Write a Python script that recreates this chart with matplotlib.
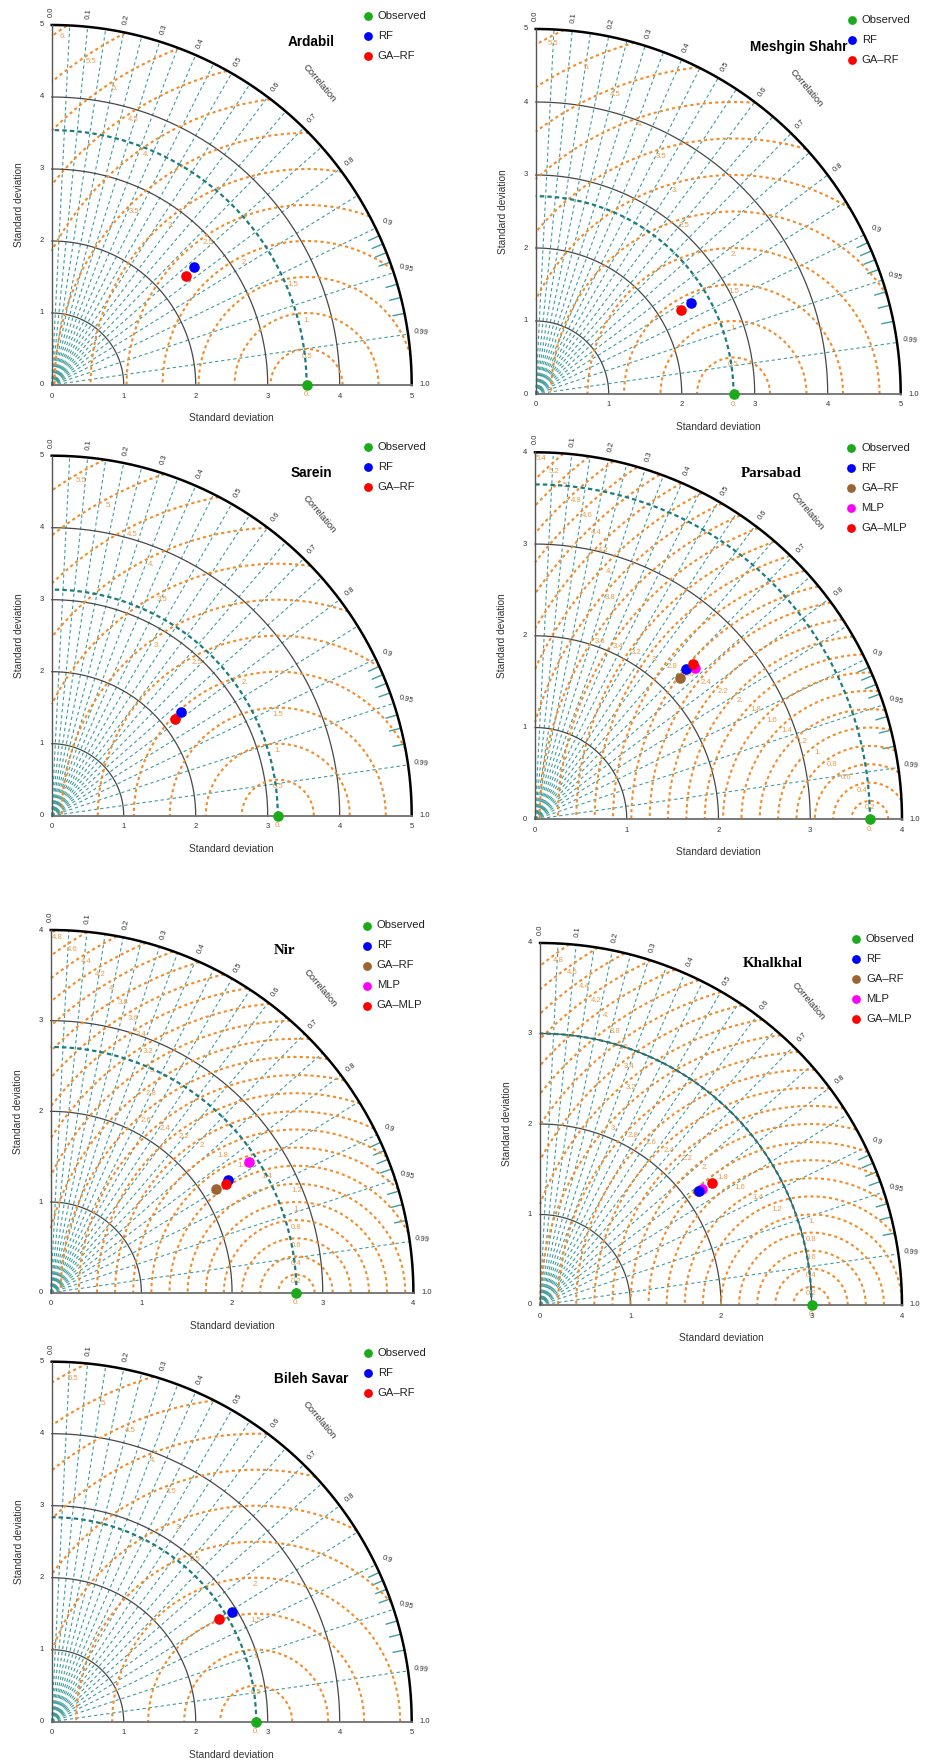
import numpy as np
import matplotlib
matplotlib.use("Agg")
import matplotlib.pyplot as plt

plt.rcParams['font.family'] = ['Liberation Sans', 'DejaVu Sans']

# ---- data ----
stations = ["Ardabil", "Meshgin Shahr", "Sarein", "Parsabad", "Nir", "Khalkhal", "Bileh Savar"]
smax = [5, 5, 5, 4, 4, 4, 5]
obs_std = [3.54, 2.71, 3.14, 3.65, 2.71, 3.00, 2.84]
rms_step = [0.5, 0.5, 0.5, 0.2, 0.2, 0.2, 0.5]
serif_title = [False, False, False, True, True, True, False]

models_rf = ["RF", "GA-RF"]
models_all = ["RF", "GA-RF", "MLP", "GA-MLP"]
colors_rf = ["#0000ff", "#ff0000"]
colors_all = ["#0000ff", "#9b6432", "#ff00ff", "#ff0000"]

ardabil_std = [2.56, 2.40]
ardabil_corr = [0.770, 0.777]
meshgin_std = [2.47, 2.30]
meshgin_corr = [0.862, 0.866]
sarein_std = [2.30, 2.17]
sarein_corr = [0.780, 0.787]
parsabad_std = [2.32, 2.21, 2.40, 2.41]
parsabad_corr = [0.709, 0.717, 0.726, 0.713]
nir_std = [2.32, 2.15, 2.62, 2.28]
nir_corr = [0.843, 0.848, 0.835, 0.850]
khalkhal_std = [2.16, 2.15, 2.20, 2.33]
khalkhal_corr = [0.813, 0.812, 0.813, 0.817]
bileh_std = [2.93, 2.72]
bileh_corr = [0.854, 0.853]

model_std = [ardabil_std, meshgin_std, sarein_std, parsabad_std, nir_std, khalkhal_std, bileh_std]
model_corr = [ardabil_corr, meshgin_corr, sarein_corr, parsabad_corr, nir_corr, khalkhal_corr, bileh_corr]

corr_lines = list(np.round(np.arange(1, 20) * 0.05, 2)) + [0.99]
corr_minor = [0.91, 0.92, 0.93, 0.94, 0.96, 0.97, 0.98]
corr_labels = [0.0, 0.1, 0.2, 0.3, 0.4, 0.5, 0.6, 0.7, 0.8, 0.9, 0.95, 0.99, 1.0]

# ---- layout (pixels): origin x, origin y, radius ----
W, H = 931, 1764
layout = [(51.7, 385, 360), (535.7, 394, 365), (51.7, 815.7, 360), (535, 819.3, 367),
          (50.7, 1292.7, 362.7), (540, 1305, 362), (51.7, 1721.7, 360)]

TEAL = '#3f9d9d'
TEAL_D = '#1d7c7c'
ORANGE = '#f28c28'
ORANGE_T = '#ec9a48'
GRAY = '#333333'

fig = plt.figure(figsize=(W / 100, H / 100), dpi=100)


def fmt(v):
    if abs(v - round(v)) < 1e-9:
        return f"{int(round(v))}."
    return f"{v:g}"


def taylor(i):
    ox, oy, rp = layout[i]
    sm = smax[i]
    k = rp / sm
    px = 1.0 / k
    L = max(0, ox - 55); R = min(W, ox + rp + 75)
    T = max(0, oy - rp - 45); B = min(H, oy + 42)
    ax = fig.add_axes([L / W, 1 - B / H, (R - L) / W, (B - T) / H])
    ax.set_xlim((L - ox) / k, (R - ox) / k)
    ax.set_ylim((oy - B) / k, (oy - T) / k)
    ax.axis('off')

    th = np.linspace(0, np.pi / 2, 400)

    # correlation rays
    for c in corr_lines:
        t = np.arccos(c)
        ax.plot([0, sm * np.cos(t)], [0, sm * np.sin(t)], color=TEAL, lw=0.8,
                ls=(0, (3, 2.5)), zorder=1)
    for c in corr_minor:
        t = np.arccos(c)
        ax.plot([sm * 0.968 * np.cos(t), sm * np.cos(t)],
                [sm * 0.968 * np.sin(t), sm * np.sin(t)], color=TEAL, lw=1.0, zorder=1)

    # std arcs
    for s in range(1, sm):
        ax.plot(s * np.cos(th), s * np.sin(th), color='#474747', lw=0.9, zorder=2)

    # RMS contours around the observed point
    ref = obs_std[i]
    step = rms_step[i]
    rmax = np.hypot(ref, sm)
    phi = np.linspace(0, np.pi, 1441)
    n = int(np.floor(rmax / step + 1e-9))
    for r in np.round(np.arange(1, n + 1) * step, 2):
        x = ref + r * np.cos(phi)
        y = r * np.sin(phi)
        inside = (x >= 0) & (x * x + y * y <= sm * sm)
        if inside.sum() < 2:
            continue
        ax.plot(np.where(inside, x, np.nan), np.where(inside, y, np.nan),
                color=ORANGE, lw=1.5, ls=(0, (1.5, 1.5)), zorder=3)
        idx = np.where(inside)[0]
        pm = 0.5 * (phi[idx[0]] + phi[idx[-1]])
        rl = r - 7 * px
        ax.text(ref + rl * np.cos(pm), rl * np.sin(pm), fmt(r), color=ORANGE_T,
                fontsize=5.6, ha='center', va='center', zorder=4)
    ax.text(ref, -10 * px, "0.", color=ORANGE_T, fontsize=5.6, ha='center', va='center')

    # reference std arc
    ax.plot(ref * np.cos(th), ref * np.sin(th), color=TEAL_D, lw=1.6,
            ls=(0, (2, 1.4)), zorder=4)

    # frame
    ax.plot(sm * np.cos(th), sm * np.sin(th), color='black', lw=1.8, zorder=5)
    ax.plot([0, sm], [0, 0], color='#707070', lw=1.3, zorder=5)
    ax.plot([0, 0], [0, sm], color='#555555', lw=1.0, zorder=5)

    # tick labels
    for v in range(sm + 1):
        ax.text(v, -11 * px, str(v), fontsize=5.5, color=GRAY, ha='center', va='center')
        ax.text(-10 * px, v, str(v), fontsize=5.5, color=GRAY, ha='center', va='center')
    for c in corr_labels:
        t = np.arccos(c)
        deg = np.degrees(t)
        rot = deg if c <= 0.8 else (0 if c == 1.0 else -0.8 * deg)
        rr = sm + 13 * px
        lab = f"{c:.2f}" if c in (0.95, 0.99) else f"{c:.1f}"
        ax.text(rr * np.cos(t), rr * np.sin(t), lab, fontsize=5.5, color=GRAY,
                ha='center', va='center', rotation=rot, rotation_mode='anchor')
    tc = np.radians(48.5)
    ax.text(1.12 * sm * np.cos(tc), 1.12 * sm * np.sin(tc), "Correlation",
            fontsize=6.8, color=GRAY, rotation=-50, ha='center', va='center')
    ax.text(sm / 2, -33 * px, "Standard deviation", fontsize=7.3, color=GRAY,
            ha='center', va='center')
    ax.text(-33 * px, sm / 2, "Standard deviation", fontsize=7.3, color=GRAY,
            ha='center', va='center', rotation=90)

    # title
    if serif_title[i]:
        ax.text(0.644 * sm, 0.943 * sm, stations[i], fontsize=10.8, fontweight='bold',
                family=['Liberation Serif', 'DejaVu Serif'], ha='center', va='center')
    else:
        ax.text(0.72 * sm, 0.952 * sm, stations[i], fontsize=9.8, fontweight='bold',
                ha='center', va='center')

    # points
    names = models_rf if len(model_std[i]) == 2 else models_all
    cols = colors_rf if len(model_std[i]) == 2 else colors_all
    order = [1, 0] if len(names) == 2 else [1, 2, 0, 3]
    for j in order:
        s = model_std[i][j]
        c = model_corr[i][j]
        ax.scatter(s * c, s * np.sqrt(1 - c * c), s=58, color=cols[j], zorder=10,
                   linewidths=0)
    ax.scatter(ref, 0, s=58, color='#1aaa1a', zorder=11, linewidths=0, clip_on=False)

    # legend
    lx = 316 * px
    ly = sm + (9 if sm == 5 else 4.5) * px
    entries = [("Observed", '#1aaa1a')] + list(zip(names, cols))
    for j, (nm, col) in enumerate(entries):
        yy = ly - j * 20 * px
        ax.scatter(lx, yy, s=40, color=col, linewidths=0, clip_on=False, zorder=10)
        ax.text(lx + 10 * px, yy, nm.replace("-", "\u2013"), fontsize=8.1,
                color='#222222', ha='left', va='center')


for i in range(len(stations)):
    taylor(i)

fig.savefig("out.png", dpi=100)
